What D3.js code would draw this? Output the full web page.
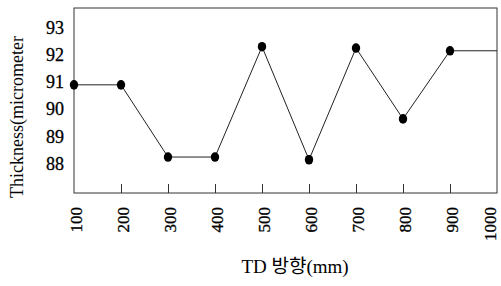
<!DOCTYPE html>
<html><head><meta charset="utf-8">
<script src="https://cdn.jsdelivr.net/npm/d3@7"></script>
<style>body{margin:0;background:#fff}svg{display:block}</style>
</head><body>
<script>
const positions = [100,200,300,400,500,600,700,800,900,1000];
const thickness = [90.65,90.65,88.0,88.0,92.05,87.9,92.0,89.4,91.9,91.9];
const yTicks = [88,89,90,91,92,93];
const xTickLabels = ["100","200","300","400","500","600","700","800","900","1000"];
const markerCount = 9;

const W=501,H=286;
const svg=d3.select("body").append("svg").attr("width",W).attr("height",H);
const x=d3.scaleLinear().domain([100,1000]).range([74,497]);
const y=d3.scaleLinear().domain([86.68,93.47]).range([193,8]);
const serif="'Liberation Serif','DejaVu Serif',serif";

// frame
svg.append("rect").attr("x",74).attr("y",8).attr("width",423).attr("height",185)
  .attr("fill","none").attr("stroke","#333").attr("stroke-width",1);

// x axis ticks (inside) + rotated labels
const xa=svg.append("g").attr("transform","translate(0,193)")
  .call(d3.axisBottom(x).tickValues(positions).tickSize(0).tickFormat((d,i)=>xTickLabels[i]));
xa.select(".domain").remove();
xa.selectAll(".tick").append("line").attr("y1",0).attr("y2",-9).attr("stroke",(d,i)=>(i===0||i===9)?"none":"#333");
xa.selectAll(".tick text").attr("transform","rotate(-90)").attr("x",-14).attr("y",(d,i)=>i===9?-7:2).attr("dy","0.35em")
  .attr("text-anchor","end").style("font-family",serif).style("font-size","17px").attr("fill","#000")
  .attr("stroke","#000").attr("stroke-width",0.3);

// y axis labels
const ya=svg.append("g").attr("transform","translate(64,0)")
  .call(d3.axisLeft(y).tickValues(yTicks).tickSize(0).tickFormat(d3.format("d")));
ya.select(".domain").remove();
ya.selectAll(".tick text").attr("x",0).attr("dy","0.68em").attr("text-anchor","end")
  .style("font-family",serif).style("font-size","18px").attr("fill","#000")
  .attr("stroke","#000").attr("stroke-width",0.3);

// line
svg.append("path").datum(positions.map((p,i)=>[p,thickness[i]]))
  .attr("d",d3.line().x(d=>x(d[0])).y(d=>y(d[1])))
  .attr("fill","none").attr("stroke","#222").attr("stroke-width",1);

svg.selectAll("ellipse.dot").data(positions.slice(0,markerCount).map((p,i)=>[p,thickness[i]]))
  .enter().append("ellipse").attr("class","dot")
  .attr("cx",d=>x(d[0])).attr("cy",d=>y(d[1])).attr("rx",4.2).attr("ry",4.8).attr("fill","#000");

// titles
svg.append("text").attr("transform","translate(23,198) rotate(-90)").attr("text-anchor","start")
  .style("font-family",serif).style("font-size","18px").attr("fill","#000").text("Thickness(micrometer");
svg.append("text").attr("x",295).attr("y",273).attr("text-anchor","middle")
  .style("font-family","'Liberation Serif','Noto Sans CJK KR',serif").style("font-size","19px").attr("fill","#000").text("TD 방향(mm)");
</script>
</body></html>
